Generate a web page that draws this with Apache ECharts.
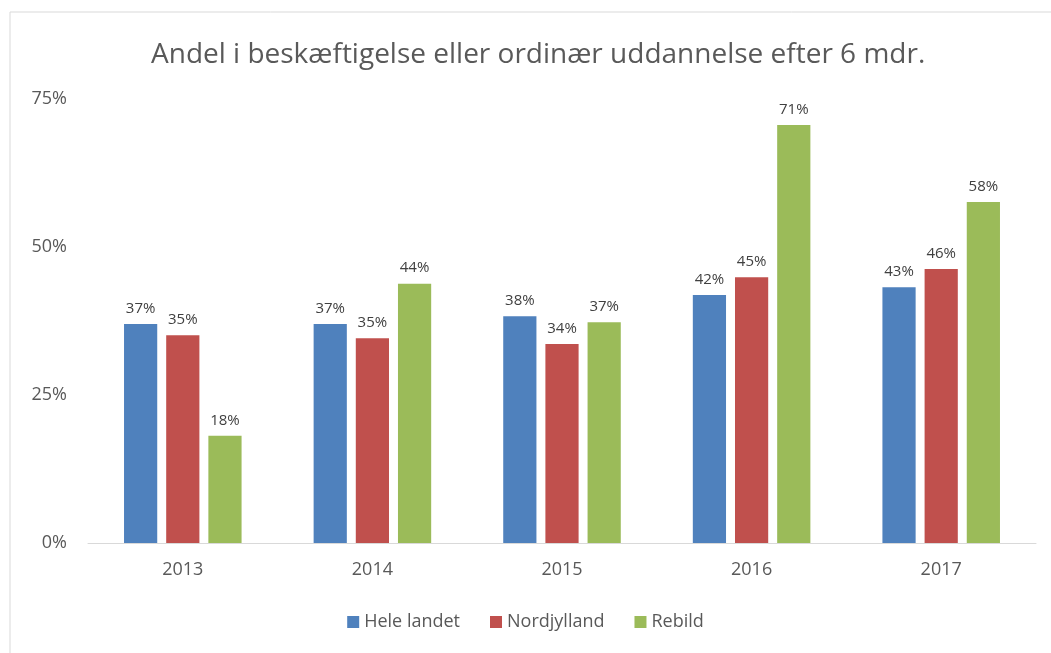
<!DOCTYPE html>
<html>
<head>
<meta charset="utf-8">
<script src="https://cdn.jsdelivr.net/npm/echarts@6/dist/echarts.min.js"></script>
<style>
html, body { margin: 0; padding: 0; background: #fff; }
#main { width: 1051px; height: 653px; }
</style>
</head>
<body>
<div id="main"></div>
<script>
// data (percent)
var years = ['2013', '2014', '2015', '2016', '2017'];
var heleLandet = [37.0, 37.0, 38.3, 41.9, 43.2];
var nordjylland = [35.1, 34.6, 33.6, 44.9, 46.3];
var rebild = [18.1, 43.8, 37.3, 70.6, 57.6];
var yTicks = [0, 25, 50, 75];

var fontFam = '"Open Sans", "DejaVu Sans", sans-serif';
var txtColor = '#595959';

function makeSeries(name, data, color){
	return {
		name : name,
		type : 'bar',
		data : data,
		barGap : '27%',
		barCategoryGap : '38%',
		itemStyle : { color : color },
		label : {
			show : true,
			position : 'top',
			distance : 8,
			color : '#404040',
			fontSize : 15,
			fontFamily : fontFam,
			formatter : function(p){ return Math.round(p.value) + '%'; }
		}
	};
}

var myChart = echarts.init(document.getElementById('main'));
var option = {
	backgroundColor : '#fff',
	animation : false,
	graphic : [{
		type : 'rect',
		shape : { x : 10, y : 12, width : 1060, height : 700 },
		style : { fill : 'none', stroke : '#d9d9d9', lineWidth : 1 },
		silent : true
	}],
	title : {
		text : 'Andel i beskæftigelse eller ordinær uddannelse efter 6 mdr.',
		left : 146,
		top : 36,
		textStyle : {
			fontSize : 28,
			fontWeight : 'normal',
			color : txtColor,
			fontFamily : fontFam
		}
	},
	legend : {
		bottom : 17,
		left : 'center',
		itemWidth : 12,
		itemHeight : 12,
		itemGap : 30,
		icon : 'rect',
		textStyle : { fontSize : 18, color : txtColor, fontFamily : fontFam },
		data : [ 'Hele landet', 'Nordjylland', 'Rebild' ]
	},
	grid : {
		left : 88,
		right : 15,
		top : 99,
		bottom : 110,
		containLabel : false
	},
	xAxis : {
		type : 'category',
		data : years,
		axisLine : { lineStyle : { color : '#d9d9d9' } },
		axisTick : { show : false },
		axisLabel : { fontSize : 18, color : txtColor, fontFamily : fontFam, margin : 18 }
	},
	yAxis : {
		type : 'value',
		min : yTicks[0],
		max : yTicks[yTicks.length - 1],
		interval : 25,
		splitLine : { show : false },
		axisLine : { show : false },
		axisTick : { show : false },
		axisLabel : {
			fontSize : 18,
			color : txtColor,
			fontFamily : fontFam,
			margin : 21,
			formatter : '{value}%'
		}
	},
	series : [
		makeSeries('Hele landet', heleLandet, '#4F81BD'),
		makeSeries('Nordjylland', nordjylland, '#C0504D'),
		makeSeries('Rebild', rebild, '#9BBB59')
	]
};
myChart.setOption(option);
</script>
</body>
</html>
